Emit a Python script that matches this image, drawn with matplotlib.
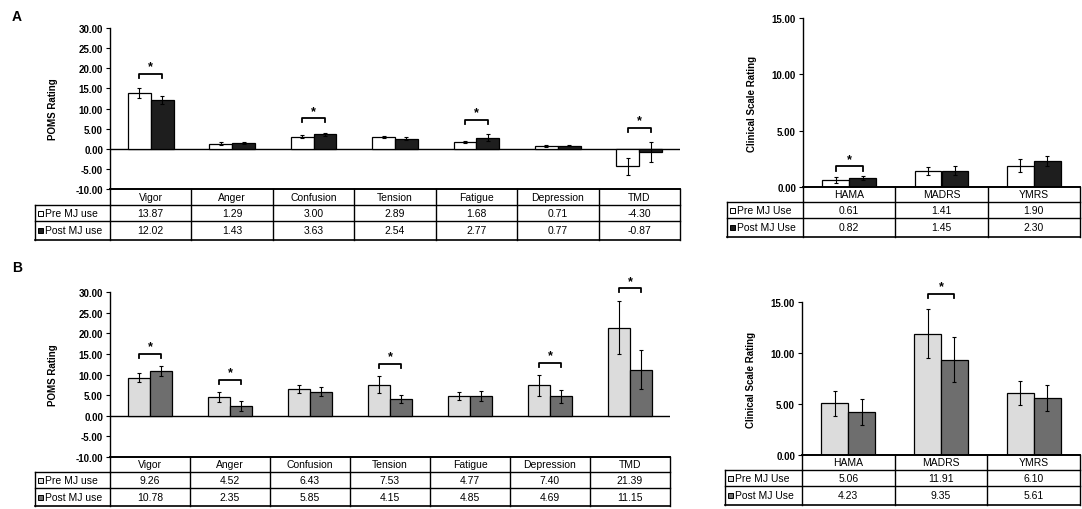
import matplotlib
matplotlib.use('Agg')
import matplotlib.pyplot as plt
import numpy as np
from matplotlib.lines import Line2D
from matplotlib.patches import Rectangle

W, H = 1082, 510
plt.rcParams['font.family'] = ['Liberation Sans', 'DejaVu Sans']

# ---------------- data ----------------
poms_cats = ['Vigor', 'Anger', 'Confusion', 'Tension', 'Fatigue', 'Depression', 'TMD']
clin_cats = ['HAMA', 'MADRS', 'YMRS']

a_poms_pre = [13.87, 1.29, 3.00, 2.89, 1.68, 0.71, -4.30]
a_poms_post = [12.02, 1.43, 3.63, 2.54, 2.77, 0.77, -0.87]
a_poms_pre_err = [1.2, 0.3, 0.3, 0.3, 0.3, 0.2, 2.1]
a_poms_post_err = [1.0, 0.3, 0.4, 0.3, 0.9, 0.2, 2.5]
a_poms_sig = [True, False, True, False, True, False, True]

a_clin_pre = [0.61, 1.41, 1.90]
a_clin_post = [0.82, 1.45, 2.30]
a_clin_pre_err = [0.25, 0.35, 0.6]
a_clin_post_err = [0.2, 0.4, 0.45]
a_clin_sig = [True, False, False]

b_poms_pre = [9.26, 4.52, 6.43, 7.53, 4.77, 7.40, 21.39]
b_poms_post = [10.78, 2.35, 5.85, 4.15, 4.85, 4.69, 11.15]
b_poms_pre_err = [1.0, 1.2, 1.0, 2.0, 1.0, 2.5, 6.5]
b_poms_post_err = [1.2, 1.2, 1.0, 1.0, 1.2, 1.6, 4.7]
b_poms_sig = [True, True, False, True, False, True, True]

b_clin_pre = [5.06, 11.91, 6.10]
b_clin_post = [4.23, 9.35, 5.61]
b_clin_pre_err = [1.2, 2.4, 1.2]
b_clin_post_err = [1.3, 2.2, 1.3]
b_clin_sig = [False, True, False]

poms_ticks = [-10, -5, 0, 5, 10, 15, 20, 25, 30]
clin_ticks = [0, 5, 10, 15]

fig = plt.figure(figsize=(W / 100, H / 100), dpi=100)


def fx(px):
    return px / W


def fy(py):
    return 1 - py / H


def fline(x1, y1, x2, y2, lw=1.0):
    fig.add_artist(Line2D([fx(x1), fx(x2)], [fy(y1), fy(y2)],
                          transform=fig.transFigure, color='black', lw=lw))


def panel(box, ylim, ticks, ylabel, ylabel_x, cats, pre, post, pre_err, post_err,
          sig, sig_off, pre_col, post_col, rows, lab_left, row_labels, bw):
    l, t, r, b = box
    ax = fig.add_axes([fx(l), fy(b), (r - l) / W, (b - t) / H])
    n = len(cats)
    x = np.arange(n)
    ax.bar(x - bw / 2, pre, bw, color=pre_col, edgecolor='black', linewidth=0.9, zorder=2)
    ax.bar(x + bw / 2, post, bw, color=post_col, edgecolor='black', linewidth=0.9, zorder=2)
    ax.errorbar(x - bw / 2, pre, yerr=pre_err, fmt='none', ecolor='black',
                elinewidth=0.8, capsize=1.5, capthick=0.8, zorder=3)
    ax.errorbar(x + bw / 2, post, yerr=post_err, fmt='none', ecolor='black',
                elinewidth=0.8, capsize=1.5, capthick=0.8, zorder=3)
    ax.set_xlim(-0.5, n - 0.5)
    ax.set_ylim(*ylim)
    ax.axhline(0, color='black', lw=1.0, zorder=1)
    ax.set_yticks(ticks)
    ax.set_yticklabels([f'{v:.2f}' for v in ticks], fontsize=7, fontweight='bold')
    ax.tick_params(axis='y', direction='out', length=3, width=0.8, pad=2)
    ax.set_xticks([])
    for s in ['top', 'right']:
        ax.spines[s].set_visible(False)
    ax.spines['left'].set_linewidth(1.0)
    ax.spines['bottom'].set_linewidth(1.2)
    ax.set_ylabel(ylabel, fontsize=7, fontweight='bold')
    ax.yaxis.set_label_coords(ylabel_x, 0.5)
    # significance brackets
    tick_len = (ylim[1] - ylim[0]) * 0.025
    for i in range(n):
        if sig[i]:
            top = max(pre[i] + pre_err[i], post[i] + post_err[i], 0)
            yb = top + sig_off
            x1, x2 = i - bw / 2, i + bw / 2
            ax.plot([x1, x1, x2, x2], [yb - tick_len, yb, yb, yb - tick_len],
                    color='black', lw=1.3, clip_on=False, zorder=4)
            ax.text(i, yb + tick_len * 0.4, '*', ha='center', va='bottom',
                    fontsize=9, fontweight='bold', clip_on=False)
    # table
    h0, h1, h2, h3 = rows
    colw = (r - l) / n
    fline(l, h0, r, h0, 1.2)
    fline(l, h1, r, h1)
    fline(lab_left, h2, r, h2)
    fline(lab_left, h1, l, h1)
    fline(lab_left, h3, r, h3, 1.2)
    fline(lab_left, h1, lab_left, h3)
    fline(l, h0, l, h3)
    fline(r, h0, r, h3)
    for j in range(1, n):
        fline(l + j * colw, h0, l + j * colw, h3)
    for j in range(n):
        cx = l + (j + 0.5) * colw
        fig.text(fx(cx), fy((h0 + h1) / 2), cats[j], ha='center', va='center', fontsize=7.5)
        fig.text(fx(cx), fy((h1 + h2) / 2), f'{pre[j]:.2f}', ha='center', va='center', fontsize=7.5)
        fig.text(fx(cx), fy((h2 + h3) / 2), f'{post[j]:.2f}', ha='center', va='center', fontsize=7.5)
    for (ya, yb2), lab, col in zip([(h1, h2), (h2, h3)], row_labels, [pre_col, post_col]):
        yc = (ya + yb2) / 2
        sq = 5
        fig.add_artist(Rectangle((fx(lab_left + 3), fy(yc + sq / 2)), sq / W, sq / H,
                                 transform=fig.transFigure, facecolor=col,
                                 edgecolor='black', lw=0.7))
        fig.text(fx(lab_left + 10), fy(yc), lab, ha='left', va='center', fontsize=7.5)
    return ax


panel((110, 29, 680, 190), (-10, 30), poms_ticks, 'POMS Rating', -0.091,
      poms_cats, a_poms_pre, a_poms_post, a_poms_pre_err, a_poms_post_err,
      a_poms_sig, 3.5, 'white', '#1e1e1e', (190, 206, 222, 241), 35,
      ['Pre MJ use', 'Post MJ use'], 0.28)

panel((803, 19, 1080, 188), (0, 15), clin_ticks, 'Clinical Scale Rating', -0.166,
      clin_cats, a_clin_pre, a_clin_post, a_clin_pre_err, a_clin_post_err,
      a_clin_sig, 0.8, 'white', '#1e1e1e', (188, 203, 219, 238), 727,
      ['Pre MJ Use', 'Post MJ Use'], 0.29)

panel((110, 293, 670, 458), (-10, 30), poms_ticks, 'POMS Rating', -0.093,
      poms_cats, b_poms_pre, b_poms_post, b_poms_pre_err, b_poms_post_err,
      b_poms_sig, 3.0, '#dcdcdc', '#6e6e6e', (458, 473, 489, 507), 35,
      ['Pre MJ use', 'Post MJ use'], 0.28)

panel((802, 303, 1080, 456), (0, 15), clin_ticks, 'Clinical Scale Rating', -0.166,
      clin_cats, b_clin_pre, b_clin_post, b_clin_pre_err, b_clin_post_err,
      b_clin_sig, 1.5, '#dcdcdc', '#6e6e6e', (456, 471, 487, 506), 725,
      ['Pre MJ Use', 'Post MJ Use'], 0.29)

fig.text(fx(12), fy(17), 'A', fontsize=10, fontweight='bold', va='center')
fig.text(fx(12), fy(268), 'B', fontsize=10, fontweight='bold', va='center')

fig.savefig('out.png', dpi=100, facecolor='white')
